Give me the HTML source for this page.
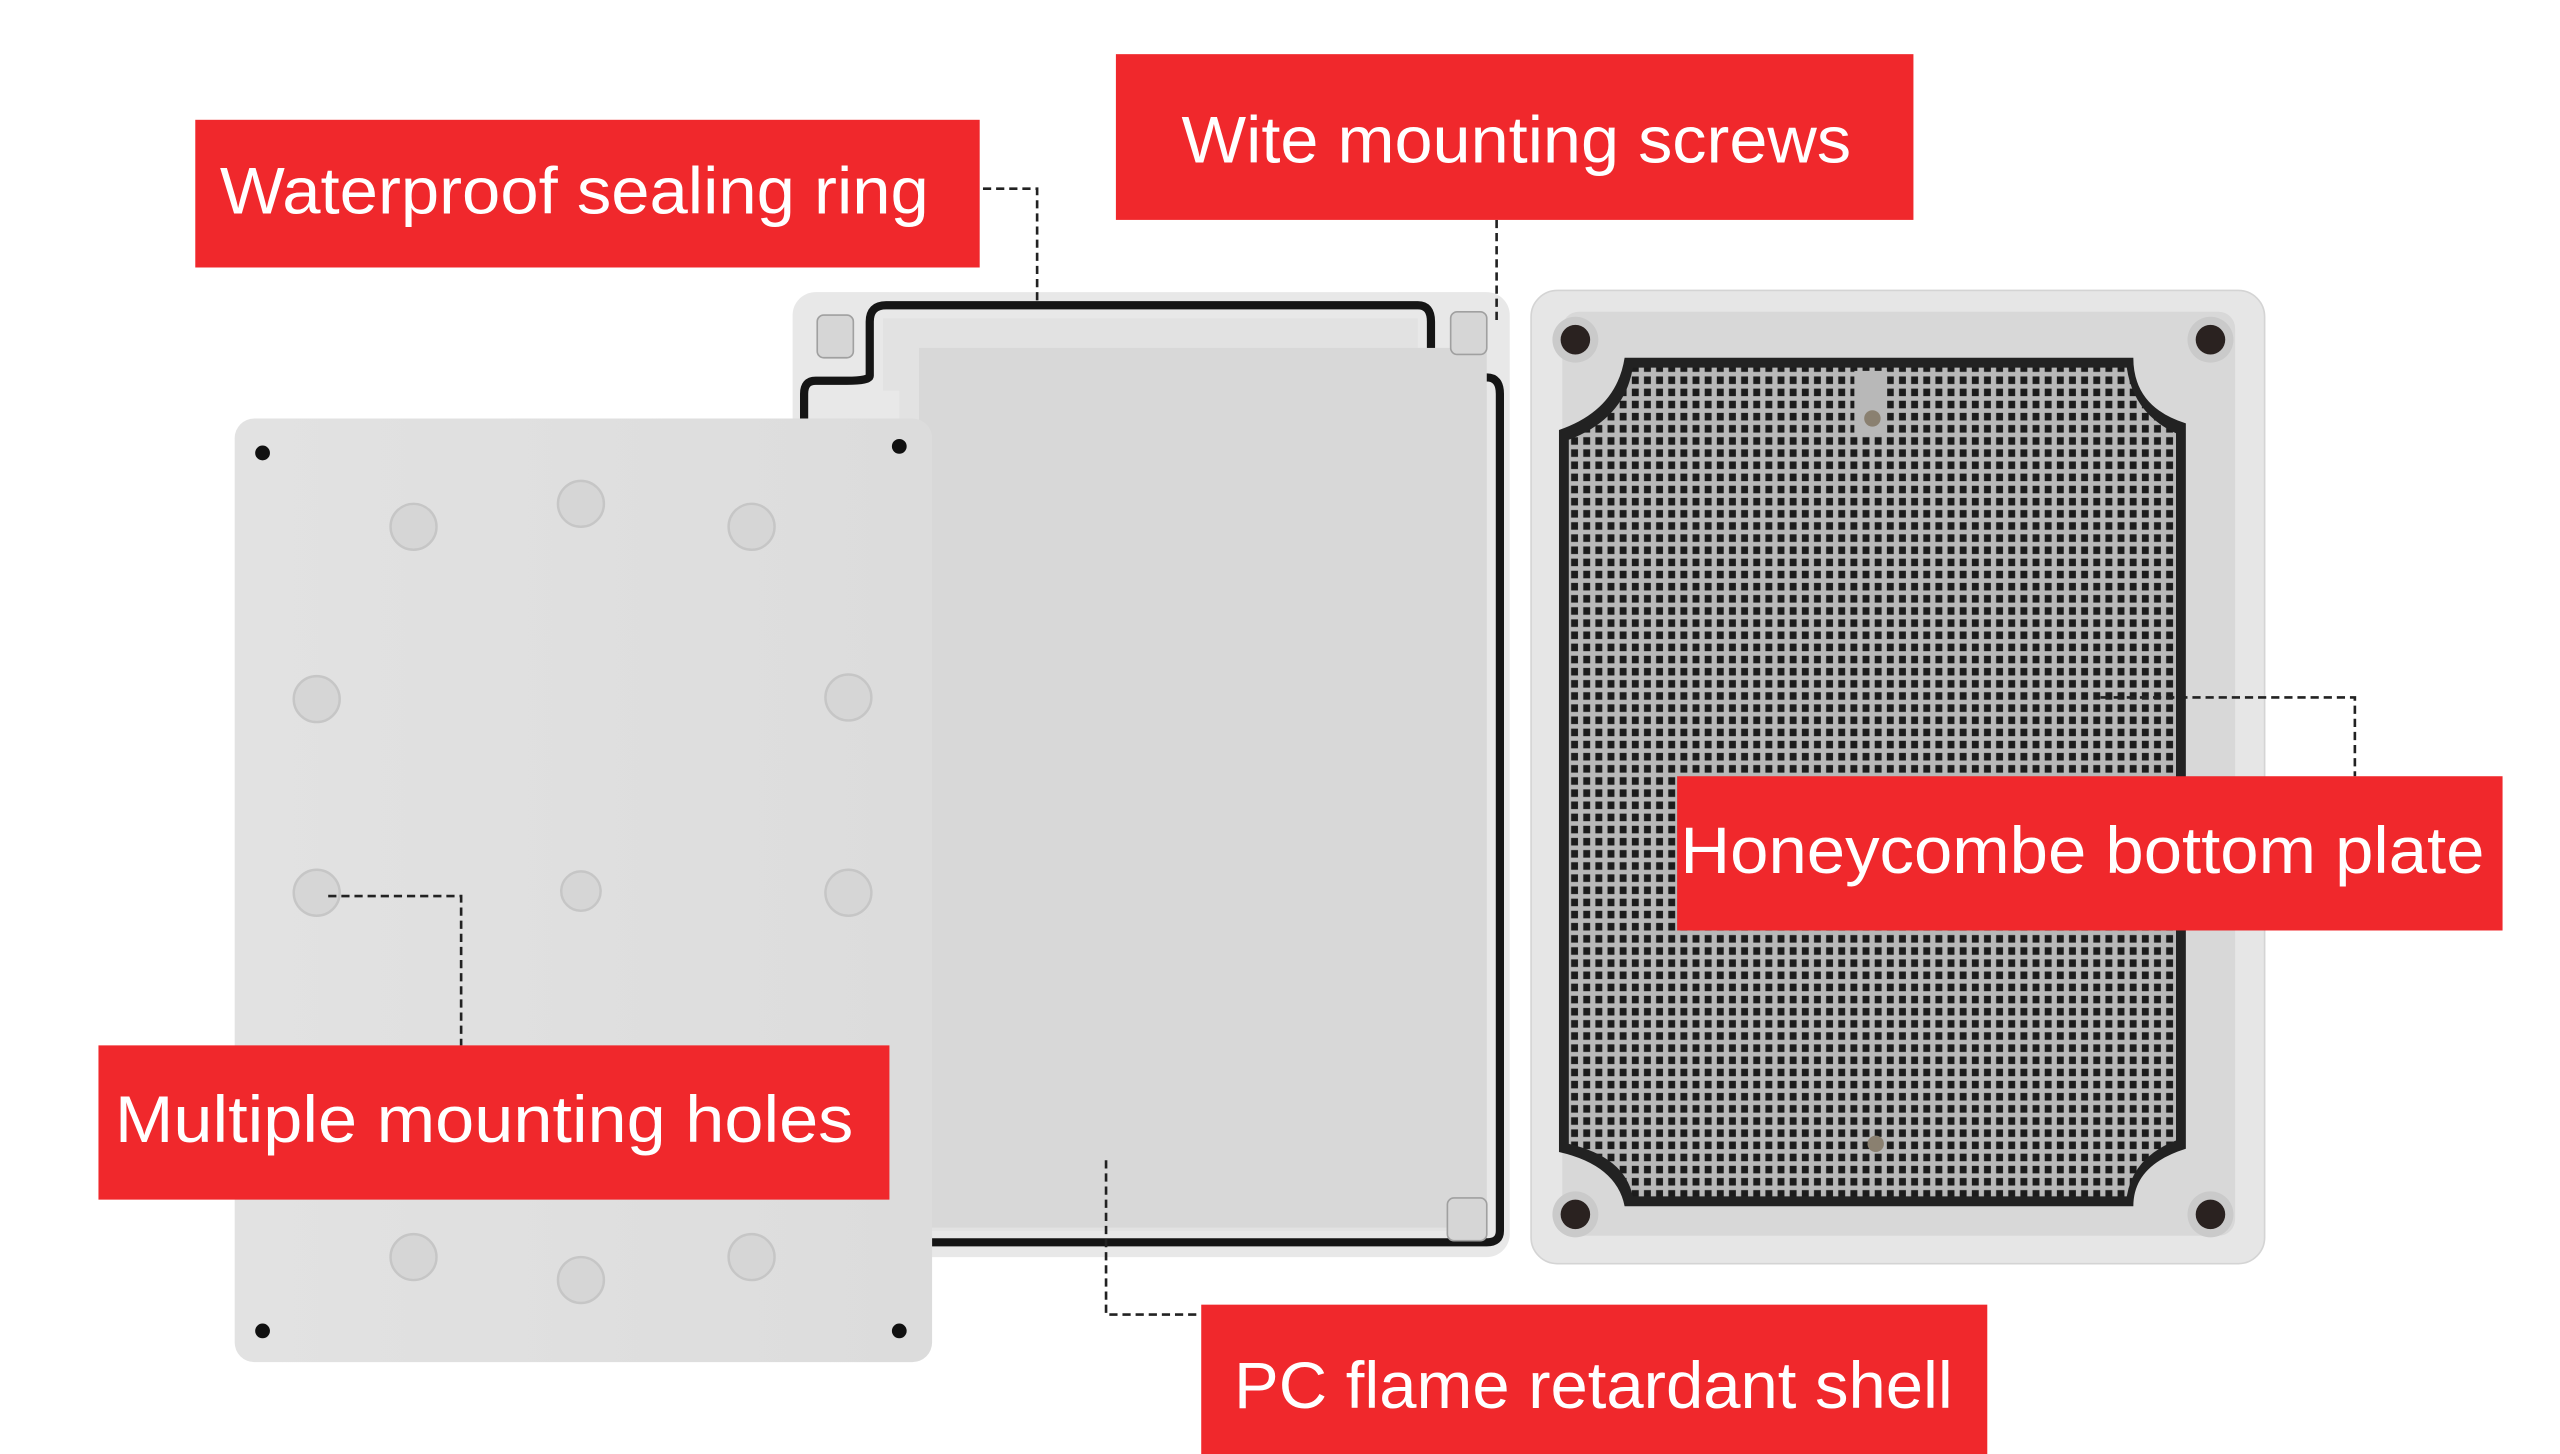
<!DOCTYPE html>
<html><head><meta charset="utf-8"><style>
html,body{margin:0;padding:0;background:#fff;}
svg{display:block}
text{font-family:"Liberation Sans",sans-serif;fill:#fff;font-size:40px}
</style></head><body>
<svg width="2560" height="1454" viewBox="0 0 1560 886" preserveAspectRatio="none" xmlns="http://www.w3.org/2000/svg">
<defs>
<pattern id="hc" x="956" y="228" width="7.4" height="7.4" patternUnits="userSpaceOnUse">
<rect width="7.4" height="7.4" fill="#b8b8b8"/>
<rect x="1.4" y="1.4" width="4.2" height="4.6" fill="#1c1c1c"/>
</pattern>
<linearGradient id="lid" x1="0" y1="0" x2="1" y2="0"><stop offset="0" stop-color="#e2e2e2"/><stop offset="1" stop-color="#dcdcdc"/></linearGradient>
</defs>
<rect width="1560" height="886" fill="#fff"/>

<!-- middle box -->
<rect x="483" y="178" width="437" height="588" rx="14" fill="#e8e8e8"/>
<path d="M530 229 V196 Q530 186 540 186 H864 Q872 186 872 196 V216 Q872 230 888 230 H906 Q914 230 914 240 V750 Q914 757 906 757 H548 M530 229 Q530 232 516 232 H497 Q490 232 490 240 V260" fill="none" stroke="#151515" stroke-width="5"/>
<path d="M538 194 H864 V220 Q866 238 888 238 H906 V750 H548 V238 H538 Z" fill="#e2e2e2"/>
<rect x="560" y="212" width="346" height="536" fill="#d8d8d8"/>
<rect x="498" y="192" width="22" height="26" rx="4" fill="#d6d6d6" stroke="#a0a0a0" stroke-width="1"/>
<rect x="884" y="190" width="22" height="26" rx="4" fill="#d6d6d6" stroke="#a0a0a0" stroke-width="1"/>
<rect x="882" y="730" width="24" height="26" rx="4" fill="#d6d6d6" stroke="#a0a0a0" stroke-width="1"/>

<!-- right box -->
<rect x="933" y="177" width="447" height="593" rx="16" fill="#e6e6e6" stroke="#d4d4d4"/>
<rect x="952" y="190" width="410" height="563" rx="10" fill="#d8d8d8"/>
<circle cx="960" cy="207" r="14" fill="#cacaca"/><circle cx="960" cy="207" r="9" fill="#2a2220"/>
<circle cx="1347" cy="207" r="14" fill="#cacaca"/><circle cx="1347" cy="207" r="9" fill="#2a2220"/>
<circle cx="960" cy="740" r="14" fill="#cacaca"/><circle cx="960" cy="740" r="9" fill="#2a2220"/>
<circle cx="1347" cy="740" r="14" fill="#cacaca"/><circle cx="1347" cy="740" r="9" fill="#2a2220"/>
<path d="M990 218 H1300 Q1300 248 1332 258 V700 Q1300 710 1300 735 H990 Q985 710 950 702 V262 Q985 250 990 218 Z" fill="#222"/>
<path d="M995 224 H1296 Q1300 252 1326 264 V695 Q1300 705 1296 729 H995 Q990 705 956 697 V268 Q990 255 995 224 Z" fill="url(#hc)"/>
<rect x="1130" y="226" width="20" height="40" fill="#b8b8b8"/>
<circle cx="1141" cy="255" r="5" fill="#8a8070"/>
<circle cx="1143" cy="697" r="5" fill="#8a8070"/>

<!-- lid -->
<rect x="143" y="255" width="425" height="575" rx="12" fill="url(#lid)"/>
<g fill="#d6d6d6" stroke="#c6c6c6" stroke-width="1.5">
<circle cx="252" cy="321" r="14"/><circle cx="354" cy="307" r="14"/><circle cx="458" cy="321" r="14"/>
<circle cx="193" cy="426" r="14"/><circle cx="517" cy="425" r="14"/>
<circle cx="193" cy="544" r="14"/><circle cx="517" cy="544" r="14"/>
<circle cx="252" cy="766" r="14"/><circle cx="354" cy="780" r="14"/><circle cx="458" cy="766" r="14"/>
<circle cx="354" cy="543" r="12"/>
</g>
<g fill="#111">
<circle cx="160" cy="276" r="4.5"/><circle cx="548" cy="272" r="4.5"/>
<circle cx="160" cy="811" r="4.5"/><circle cx="548" cy="811" r="4.5"/>
</g>

<!-- connectors -->
<g fill="none" stroke="#222" stroke-width="1.6" stroke-dasharray="5 3">
<path d="M599 115 H632 V183"/>
<path d="M912 134 V195"/>
<path d="M1280 425 H1435 V473"/>
<path d="M200 546 H281 V637"/>
<path d="M674 707 V801 H732"/>
</g>

<!-- labels -->
<rect x="119" y="73" width="478" height="90" fill="#f0282c"/>
<text x="134" y="130" textLength="432" lengthAdjust="spacingAndGlyphs">Waterproof sealing ring</text>
<rect x="680" y="33" width="486" height="101" fill="#f0282c"/>
<text x="720" y="99" textLength="408" lengthAdjust="spacingAndGlyphs">Wite mounting screws</text>
<rect x="1022" y="473" width="503" height="94" fill="#f0282c"/>
<text x="1024" y="532" textLength="490" lengthAdjust="spacingAndGlyphs">Honeycombe bottom plate</text>
<rect x="60" y="637" width="482" height="94" fill="#f0282c"/>
<text x="70" y="696" textLength="450" lengthAdjust="spacingAndGlyphs">Multiple mounting holes</text>
<rect x="732" y="795" width="479" height="95" fill="#f0282c"/>
<text x="752" y="858" textLength="438" lengthAdjust="spacingAndGlyphs">PC flame retardant shell</text>
</svg>
</body></html>
